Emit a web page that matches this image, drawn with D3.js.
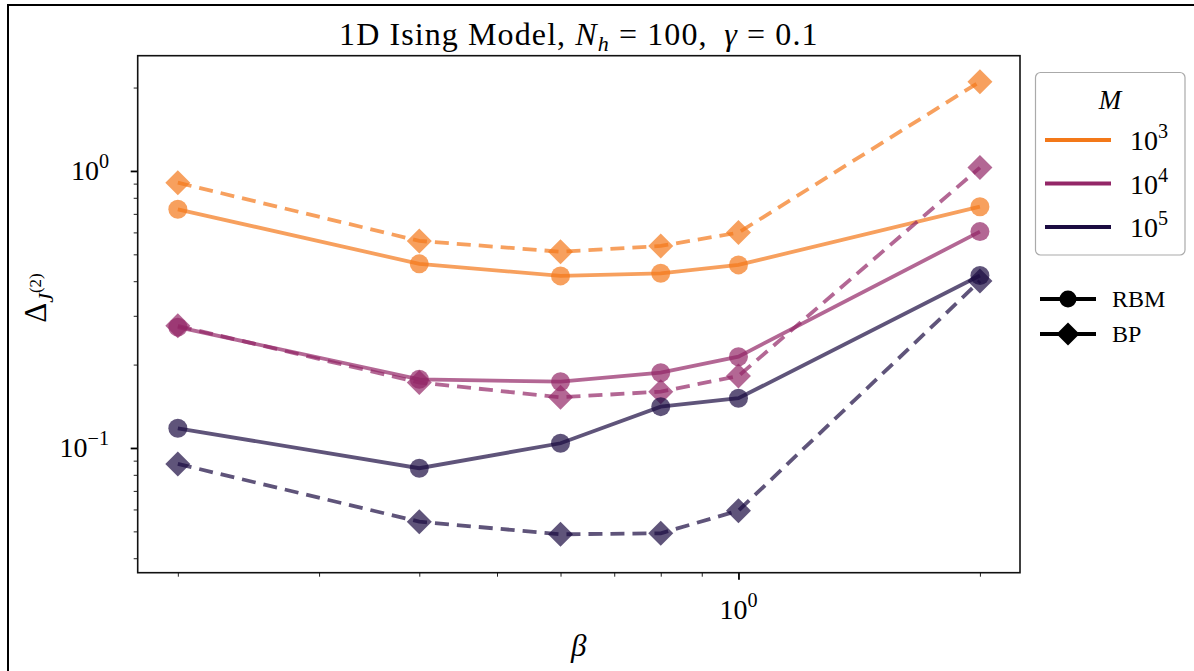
<!DOCTYPE html>
<html>
<head>
<meta charset="utf-8">
<script src="https://cdn.jsdelivr.net/npm/d3@7"></script>
<style>
  html, body { margin: 0; padding: 0; background: #fff; }
  svg { display: block; }
  text { font-family: "Liberation Serif", "DejaVu Serif", serif; fill: #000; }
</style>
</head>
<body>
<svg id="chart" width="1194" height="671"></svg>
<script>
// ---- data ----
const beta = [0.2, 0.4, 0.6, 0.8, 1.0, 2.0];
const mExponents = ["3", "4", "5"];
const seriesColors = ["#f37819", "#932667", "#1b0c41"];
const rbm_M1e3 = [0.727, 0.462, 0.418, 0.427, 0.458, 0.743];
const bp_M1e3  = [0.907, 0.559, 0.511, 0.536, 0.599, 2.10];
const rbm_M1e4 = [0.273, 0.177, 0.1735, 0.187, 0.2136, 0.604];
const bp_M1e4  = [0.276, 0.1723, 0.1524, 0.1597, 0.1819, 1.028];
const rbm_M1e5 = [0.1178, 0.0845, 0.104, 0.141, 0.1512, 0.4195];
const bp_M1e5  = [0.0876, 0.0542, 0.0488, 0.0492, 0.0594, 0.4008];
const xMajorTicks = [1];
const xMinorTicks = [0.2, 0.3, 0.4, 0.5, 0.6, 0.7, 0.8, 0.9, 2];
const yMajorTicks = [0.1, 1];
const yMinorTicks = [0.04, 0.05, 0.06, 0.07, 0.08, 0.09, 0.2, 0.3, 0.4, 0.5, 0.6, 0.7, 0.8, 0.9, 2];

const rbmSeries = [rbm_M1e3, rbm_M1e4, rbm_M1e5];
const bpSeries  = [bp_M1e3, bp_M1e4, bp_M1e5];

// ---- layout ----
const svg = d3.select("#chart");
const L = 137.7, R = 1020, T = 55.7, B = 572.7;

// outer frame
svg.append("rect").attr("x", 8).attr("y", 5).attr("width", 1200).attr("height", 700)
  .attr("fill", "none").attr("stroke", "#000").attr("stroke-width", 2);

const x = d3.scaleLog().domain([Math.pow(10, -0.749), Math.pow(10, 0.351)]).range([L, R]);
const y = d3.scaleLog().domain([Math.pow(10, -1.4502), Math.pow(10, 0.416)]).range([B, T]);

// axes ticks
const gx = svg.append("g").attr("transform", `translate(0,${B})`);
gx.call(d3.axisBottom(x).tickValues(xMinorTicks).tickSize(4).tickFormat(""));
const gxM = svg.append("g").attr("transform", `translate(0,${B})`);
gxM.call(d3.axisBottom(x).tickValues(xMajorTicks).tickSize(7).tickFormat(""));
const gy = svg.append("g").attr("transform", `translate(${L},0)`);
gy.call(d3.axisLeft(y).tickValues(yMinorTicks).tickSize(4).tickFormat(""));
const gyM = svg.append("g").attr("transform", `translate(${L},0)`);
gyM.call(d3.axisLeft(y).tickValues(yMajorTicks).tickSize(7).tickFormat(""));
[gx, gy].forEach(g => { g.selectAll(".tick line").attr("stroke", "#222").attr("stroke-width", 1); g.select(".domain").remove(); });
[gxM, gyM].forEach(g => { g.selectAll(".tick line").attr("stroke", "#000").attr("stroke-width", 1.8); g.select(".domain").remove(); });

// tick labels with superscripts
function powLabel(sel, exp, fs) {
  sel.append("tspan").text("10");
  sel.append("tspan").attr("dy", -fs * 0.42).attr("font-size", fs * 0.72).text(exp);
}
xMajorTicks.forEach(v => {
  const t = svg.append("text").attr("x", x(v)).attr("y", 619).attr("text-anchor", "middle").attr("font-size", 28);
  powLabel(t, "0", 28);
});
const yLabelText = {"1": "0", "0.1": "\u22121"};
yMajorTicks.forEach(v => {
  const t = svg.append("text").attr("x", 109).attr("y", y(v) + 9).attr("text-anchor", "end").attr("font-size", 28);
  powLabel(t, yLabelText[String(v)], 28);
});

// plot frame
svg.append("rect").attr("x", L).attr("y", T).attr("width", R - L).attr("height", B - T)
  .attr("fill", "none").attr("stroke", "#111").attr("stroke-width", 1.6);

// clip
svg.append("clipPath").attr("id", "clip").append("rect")
  .attr("x", L).attr("y", T).attr("width", R - L).attr("height", B - T);
const plot = svg.append("g").attr("clip-path", "url(#clip)");

const line = d3.line().x(d => x(d[0])).y(d => y(d[1]));
const diamond = (cx, cy, s) => `M${cx},${cy - s}L${cx + s},${cy}L${cx},${cy + s}L${cx - s},${cy}Z`;

seriesColors.forEach((c, i) => {
  // BP dashed with diamonds
  const bpPts = beta.map((b, j) => [b, bpSeries[i][j]]);
  const g1 = plot.append("g");
  g1.append("path").attr("d", line(bpPts)).attr("fill", "none").attr("stroke", c)
    .attr("stroke-width", 3.8).attr("stroke-dasharray", "14,8").attr("opacity", 0.7);
  bpPts.forEach(p => g1.append("path").attr("d", diamond(x(p[0]), y(p[1]), 12.5)).attr("fill", c).attr("opacity", 0.7));
  // RBM solid with circles
  const rPts = beta.map((b, j) => [b, rbmSeries[i][j]]);
  const g2 = plot.append("g");
  g2.append("path").attr("d", line(rPts)).attr("fill", "none").attr("stroke", c)
    .attr("stroke-width", 3.8).attr("opacity", 0.7);
  rPts.forEach(p => g2.append("circle").attr("cx", x(p[0])).attr("cy", y(p[1])).attr("r", 9.5).attr("fill", c).attr("opacity", 0.7));
});

// title
const title = svg.append("text").attr("x", (L + R) / 2).attr("y", 45).attr("text-anchor", "middle")
  .attr("font-size", 32).attr("letter-spacing", 1.1);
title.append("tspan").text("1D Ising Model, ");
title.append("tspan").attr("font-style", "italic").text("N");
title.append("tspan").attr("font-style", "italic").attr("font-size", 22).attr("dy", 6).text("h");
title.append("tspan").attr("dy", -6).text(" = 100,\u2009 ");
title.append("tspan").attr("font-style", "italic").text("\u03B3");
title.append("tspan").text(" = 0.1");

// x label
svg.append("text").attr("x", (L + R) / 2).attr("y", 656).attr("text-anchor", "middle")
  .attr("font-size", 31).attr("font-style", "italic").text("\u03B2");

// y label
const yl = svg.append("text").attr("transform", "translate(46,298) rotate(-90)").attr("text-anchor", "middle").attr("font-size", 31);
yl.append("tspan").text("\u0394");
yl.append("tspan").attr("font-style", "italic").attr("font-size", 22).attr("dy", 7).text("J");
yl.append("tspan").attr("font-size", 17).attr("dy", -12).text("(2)");

// legend 1
svg.append("rect").attr("x", 1035.5).attr("y", 72.5).attr("width", 149.5).attr("height", 182.5).attr("rx", 5)
  .attr("fill", "#fff").attr("stroke", "#aaa").attr("stroke-width", 1.2);
svg.append("text").attr("x", 1110).attr("y", 109).attr("text-anchor", "middle").attr("font-size", 27)
  .attr("font-style", "italic").text("M");
const legY = [140, 183.5, 227];
seriesColors.forEach((c, i) => {
  svg.append("line").attr("x1", 1045).attr("x2", 1111).attr("y1", legY[i]).attr("y2", legY[i])
    .attr("stroke", c).attr("stroke-width", 4);
  const t = svg.append("text").attr("x", 1130).attr("y", legY[i] + 10).attr("font-size", 28);
  powLabel(t, mExponents[i], 28);
});

// legend 2
const leg2 = [{label: "RBM", y: 299, shape: "circle"}, {label: "BP", y: 334, shape: "diamond"}];
leg2.forEach(d => {
  svg.append("line").attr("x1", 1040).attr("x2", 1096).attr("y1", d.y).attr("y2", d.y)
    .attr("stroke", "#000").attr("stroke-width", 4);
  if (d.shape === "circle") svg.append("circle").attr("cx", 1068).attr("cy", d.y).attr("r", 8.5).attr("fill", "#000");
  else svg.append("path").attr("d", diamond(1068, d.y, 11.5)).attr("fill", "#000");
  svg.append("text").attr("x", 1112).attr("y", d.y + 8).attr("font-size", 24).text(d.label);
});
</script>
</body>
</html>
